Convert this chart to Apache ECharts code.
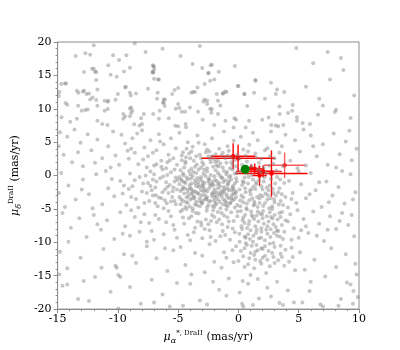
<!DOCTYPE html>
<html>
<head>
<meta charset="utf-8">
<script src="https://cdn.jsdelivr.net/npm/echarts@6/dist/echarts.min.js"></script>
<style>html,body{margin:0;padding:0;background:#fff;}#c{width:400px;height:350px;}</style>
</head>
<body>
<div id="c"></div>
<script>
// ---- axis ticks ----
const xTicks = [-15, -10, -5, 0, 5, 10];
const yTicks = [-20, -15, -10, -5, 0, 5, 10, 15, 20];

// ---- gray field stars ----
const grayTop = [[-12.0,19.5],[-8.6,19.8],[-3.2,19.4],[4.8,19.1],[7.4,18.5],[8.5,17.6],[-13.5,17.9],[-12.7,18.3],[-12.3,18.1],[-10.4,18.0],[-9.9,17.3],[-9.3,18.0],[-7.7,18.5],[-6.3,19.0],[-4.8,17.9],[-2.3,16.5],[-3.0,16.1],[-3.8,16.7],[-7.0,16.3],[-7.1,15.5],[-12.0,16.0],[-12.8,15.5],[-11.8,15.5],[-10.6,15.1],[-11.8,14.3],[-10.1,14.8],[-9.5,15.6],[-6.6,14.4],[-2.5,15.3],[-2.0,14.4],[-0.3,16.4],[1.4,14.3],[2.7,13.9],[3.2,12.9],[5.6,13.3],[7.6,14.4],[-14.7,13.7],[-14.3,13.8],[-13.4,12.7],[-12.9,12.6],[-12.6,12.2],[-12.4,12.3],[-12.3,11.4],[-12.1,11.7],[-11.8,11.3],[-11.1,11.2],[-10.8,11.2],[-10.0,12.2],[-9.4,13.2],[-9.0,12.4],[-8.5,12.3],[-7.5,13.0],[-6.7,12.4],[-6.1,11.4],[-6.2,10.9],[-5.5,12.2],[-5.3,12.8],[-5.0,13.1],[-3.9,12.4],[-3.4,13.2],[-2.8,11.4],[-2.6,11.2],[-1.8,12.2],[-1.3,12.3],[-1.1,12.6],[0.0,13.4],[0.5,12.2],[1.3,12.4],[2.2,11.5],[3.1,12.2],[3.8,12.5],[6.7,11.5],[7.0,10.5],
[8.1,9.85],[8.0,9.5],[3.4,10.35],[4.5,10.55],[4.46,9.7],[3.42,9.2],[4.12,9.36],[2.5,8.7],[1.97,8.37],[4.85,8.72],[4.85,8.2],[5.33,7.87],[5.93,7.72],[2.72,7.57],[3.1,7.5],[3.3,7.4],[3.72,7.57],
[-2.2,16.6],[-2.48,15.4],[-1.63,15.55],[-2.35,14.2],[-2.8,13.7],[-6.67,14.4],[-7.07,16.4],[-7.07,15.4],[-0.06,13.4],[1.42,14.2],[-3.75,12.5],[-3.6,12.5],[-1.27,12.3],[-1.0,12.5],[0.48,12.2],[-6.75,11.5],[-6.2,11.4],[-6.26,10.9],[-6.12,10.4],[-2.9,11.1],[-2.6,10.7],[-1.7,11.2],[-1.5,10.5],[0.73,10.4],[-5.0,10.7],[-4.9,10.1],[-5.2,10.0],[-4.7,9.55],[-4.43,9.55],[-4.02,10.2],[-3.35,9.55],[-2.97,8.37],[-2.35,9.95],[-2.2,9.95],[-2.25,9.4],[-1.7,9.2],[-0.33,8.57],[-0.2,8.37],[-1.08,8.22],[0.88,8.2],[-5.78,8.57],[-6.53,9.7],[-7.07,9.2],[-6.6,8.5],[-5.24,7.47],[-5.0,7.4],[-4.38,7.72],[-4.35,7.22],[-2.0,7.57],[-0.4,7.2],[0.6,7.2],
[-10.8,16.5],[-12.14,16.0],[-11.9,15.55],[-9.0,16.15],[-7.13,15.5],[-7.1,16.5],[-14.4,13.8],[-14.9,11.9],[-14.85,12.5],[-13.27,12.4],[-12.8,12.7],[-11.7,12.9],[-14.35,10.85],[-14.2,10.6],[-13.3,10.45],[-13.0,9.7],[-12.7,9.8],[-12.5,9.9],[-11.7,10.45],[-10.85,11.05],[-10.2,11.35],[-9.34,13.3],[-8.93,12.0],[-9.0,10.05],[-8.9,10.2],[-8.8,9.7],[-9.0,8.87],[-8.9,9.36],[-9.55,9.2],[-9.55,8.5],[-9.4,8.85],[-11.1,9.7],[-10.84,9.95],[-14.68,8.72],[-13.95,8.07],[-13.4,8.5],[-11.7,8.22],[-11.3,7.72],[-10.86,7.57],[-8.07,8.57],[-7.85,9.2],[-8.2,7.5],[-8.0,7.72],[-8.65,7.7],[-6.99,15.9],[-7.0,14.5],[8.7,15.8],[9.6,12.0],[6.2,16.8],[9.3,8.6],[6.6,9.1]];

const grayMid = [[-14.8,6.5],[-14.2,5.8],[-13.6,6.9],[-13.1,4.9],[-12.5,6.2],[-12.2,3.8],[-11.7,5.4],[-11.3,2.6],[-10.8,4.4],[-10.4,6.6],[-14.5,3.1],[-13.8,2.0],[-12.9,1.4],[-11.9,1.9],[-10.6,1.2],[-14.9,4.4],[-13.3,3.5],[-10.2,3.0],
[-9.7,6.1],[-9.4,4.8],[-9.1,2.5],[-8.8,5.6],[-8.6,3.4],[-8.3,1.7],[-8.0,6.8],[-7.8,4.2],[-7.5,2.9],[-7.3,5.3],[-7.0,1.5],[-6.8,3.8],[-6.6,6.2],[-6.4,2.2],[-6.2,4.7],[-6.0,1.1],[-5.8,3.1],[-5.6,5.6],[-5.4,2.6],[-5.2,4.1],[-5.1,1.6],[-9.9,1.6],[-9.2,3.7],[-8.4,6.3],[-7.6,1.2],[-7.1,3.4],[-6.5,5.1],[-5.9,2.0],[-8.9,4.0],[-7.9,2.4],
[-4.9,6.4],[-4.6,3.5],[-4.4,1.8],[-4.2,5.0],[-4.0,2.6],[-3.8,4.3],[-3.6,1.3],[-3.4,6.0],[-3.2,3.1],[-3.0,2.0],[-2.8,4.7],[-2.6,1.1],[-2.4,3.6],[-2.2,5.6],[-2.0,2.4],[-1.8,1.5],[-1.6,4.0],[-1.4,3.0],[-1.2,6.6],[-1.0,1.9],[-0.8,3.7],[-0.6,2.7],[-0.4,5.2],[-0.2,1.4],[-4.7,2.3],[-4.3,4.0],[-3.9,1.0],[-3.5,2.9],[-3.3,4.9],[-2.9,1.6],[-2.5,2.9],[-2.1,1.3],[-1.7,2.2],[-1.3,1.2],[-0.9,4.4],[-0.5,1.6],[-4.1,3.3],[-3.7,2.2],[-2.7,3.5],[-1.5,1.8],[-1.1,2.6],[-0.7,1.1],[-4.5,1.2],[-2.3,2.0],[-0.1,3.1],[-3.1,1.2],[-1.9,3.2],[-0.3,2.3],
[0.2,5.8],[0.4,3.9],[0.7,2.1],[0.9,4.6],[1.1,1.4],[1.4,3.3],[1.6,5.3],[1.9,2.5],[2.1,1.2],[2.4,4.1],[2.6,2.9],[2.9,1.8],[3.2,5.0],[3.4,3.4],[3.7,1.4],[3.9,6.1],[0.3,1.6],[1.2,6.4],[2.2,3.8],[3.0,2.6],[0.6,3.0],[1.7,1.9],[2.7,6.6],[3.6,4.4],
[4.3,2.2],[4.7,5.3],[5.1,3.6],[5.6,1.5],[6.0,6.0],[6.5,2.9],[7.0,4.7],[7.4,1.6],[7.9,6.3],[8.4,3.2],[8.9,5.1],[9.4,2.3],[9.8,4.0],[4.9,1.1],[6.2,4.4],[8.1,1.2],[9.2,6.7],[5.4,6.9],
[-4.4,2.1],[-3.9,3.6],[-3.1,2.6],[-2.6,3.9],[-1.9,2.0],[-1.3,3.4],[-0.6,2.0],[0.1,2.5],[0.8,3.6],[1.5,2.7],[-4.7,3.0],[-2.2,2.9],[-0.9,3.0],[0.5,1.2],[-6.8,1.7],[-5.7,2.3],[-4.35,2.75],[-3.45,1.65],[-2.35,2.45],[-1.65,1.35],[0.75,1.05],[1.65,0.85],[2.55,1.45],[-6.4,1.3],[-5.3,0.9]];

const grayCore = [[-14.7,0.4],[-14.1,-1.5],[-13.5,-3.6],[-12.9,-0.6],[-12.4,-2.8],[-11.8,0.2],[-11.3,-4.3],[-10.8,-1.9],[-10.3,-3.1],[-14.4,-4.7],[-13.0,-2.1],[-11.0,0.7],[-10.5,-0.5],[-12.1,-4.9],[-14.9,-2.6],
[-9.8,-0.8],[-9.6,-2.7],[-9.3,-4.4],[-9.0,0.3],[-8.8,-1.6],[-8.5,-3.5],[-8.2,-0.2],[-8.0,-2.4],[-7.8,-4.1],[-7.5,-1.1],[-7.3,0.6],[-7.1,-3.0],[-6.9,-1.8],[-6.7,-4.6],[-6.5,-0.4],[-6.3,-2.5],[-6.1,-3.7],[-5.9,0.1],[-5.7,-1.4],[-5.5,-3.2],[-5.3,-0.9],[-5.2,-4.3],[-5.1,-2.1],[-9.5,-1.5],[-8.9,-3.2],[-8.3,-4.8],[-7.7,0.0],[-7.2,-2.2],[-6.8,-0.9],[-6.4,-3.4],[-6.0,-1.0],[-5.8,-2.6],[-5.4,-1.8],[-5.6,0.5],[-6.2,-4.9],[-7.4,-3.8],[-8.6,-0.7],[-9.1,-2.0],[-7.0,0.2],[-5.3,-3.8],
[-7.6,-2.6],[-7.1,-0.6],[-6.6,-3.3],[-5.9,-1.7],[-5.6,-3.9],[-6.9,-4.1],[-7.9,-1.2],[-6.1,-2.1],[-7.3,-1.55],[-6.85,-2.95],[-6.25,-0.15],[-5.95,-4.15],[-5.45,-2.35],[-5.05,-0.65],[-6.3,0.9],[-5.2,-0.3],
[-4.8,0.8],[-4.1,0.7],[-3.3,0.9],[-2.6,0.6],[-1.9,0.8],[-1.2,0.7],[-0.5,0.9],[-4.6,0.3],[-4.0,0.2],[-3.5,0.4],[-2.9,0.3],[-2.3,0.1],[-1.7,0.4],[-1.0,0.2],[-0.3,0.3],[-4.9,-0.2],[-4.3,-0.3],[-3.8,-0.1],[-3.1,-0.2],[-2.5,-0.4],[-2.0,-0.1],[-1.4,-0.3],[-0.8,-0.2],[-0.2,-0.4],[-4.7,-0.8],[-4.2,-0.6],[-3.6,-0.7],[-3.0,-0.9],[-2.4,-0.6],[-1.8,-0.8],[-1.1,-0.7],[-0.6,-0.6],[-4.9,-1.3],[-4.4,-1.1],[-3.9,-1.2],[-3.3,-1.4],[-2.8,-1.1],[-2.2,-1.3],[-1.6,-1.1],[-0.9,-1.4],[-0.3,-1.2],[-4.6,-1.7],[-4.0,-1.9],[-3.5,-1.6],[-2.9,-1.8],[-2.3,-1.6],[-1.7,-1.9],[-1.2,-1.7],[-0.5,-1.8],[-4.8,-2.3],[-4.2,-2.1],[-3.7,-2.3],[-3.1,-2.2],[-2.6,-2.4],[-2.0,-2.1],[-1.4,-2.3],[-0.8,-2.2],[-0.2,-2.4],[-4.5,-2.7],[-3.9,-2.8],[-3.4,-2.6],[-2.8,-2.9],[-2.2,-2.7],[-1.6,-2.6],[-1.0,-2.8],[-0.4,-2.7],[-4.9,-3.2],[-4.3,-3.3],[-3.7,-3.1],[-3.2,-3.4],[-2.6,-3.2],[-2.0,-3.3],[-1.4,-3.1],[-0.8,-3.4],[-0.2,-3.2],[-4.6,-3.8],[-4.0,-3.6],[-3.5,-3.9],[-2.9,-3.7],[-2.3,-3.8],[-1.7,-3.6],[-1.1,-3.8],[-0.5,-3.7],[-4.8,-4.3],[-4.2,-4.1],[-3.6,-4.3],[-3.0,-4.2],[-2.5,-4.4],[-1.9,-4.1],[-1.3,-4.3],[-0.7,-4.2],[-0.1,-4.4],[-4.4,-4.7],[-3.8,-4.9],[-3.2,-4.6],[-2.6,-4.8],[-2.0,-4.7],[-1.5,-4.9],[-0.9,-4.6],[-0.3,-4.8],
[-4.55,0.05],[-3.75,0.55],[-2.75,-0.05],[-1.55,0.05],[-0.65,-0.05],[-4.05,-1.45],[-3.15,-0.55],[-2.05,-1.45],[-1.25,-0.95],[-0.15,-0.85],[-4.65,-2.05],[-3.55,-2.45],[-2.45,-1.95],[-1.15,-2.05],[-0.55,-2.95],[-4.15,-3.05],[-3.05,-2.95],[-1.85,-2.45],[-0.95,-3.15],[-4.35,-3.95],[-2.65,-3.55],[-1.55,-3.95],[-0.35,-3.55],[-3.45,-4.45],[-2.15,-4.55],[-1.05,-4.45],[-4.75,-0.55],[-3.85,-2.55],[-2.95,-1.35],[-1.95,-0.65],[-0.45,-1.55],
[-3.95,-0.45],[-3.25,-1.75],[-2.85,0.85],[-1.95,-2.85],[-1.35,-0.35],[-0.95,0.55],[-0.55,-2.25],[-0.15,0.35],[-4.75,-3.55],[-4.45,-1.95],[-4.05,-4.65],[-3.65,-3.35],[-3.35,-0.95],[-3.05,-4.05],[-2.75,-2.15],[-2.45,-3.85],[-2.15,-0.95],[-1.85,-4.35],[-1.55,-2.85],[-1.25,-3.55],[-0.85,-1.15],[-0.65,-4.05],[-0.25,-2.65],
[-3.9,-2.05],[-3.6,-1.15],[-3.3,-2.75],[-3.0,-1.55],[-2.7,-3.45],[-2.4,-1.25],[-2.1,-2.55],[-1.8,-3.15],[-1.5,-1.65],[-1.2,-2.35],[-0.9,-1.95],[-0.6,-3.35],[-3.8,-3.45],[-3.4,-0.35],[-2.9,-2.35],[-2.5,-0.85],[-2.2,-3.05],[-1.7,-1.35],[-1.3,-2.65],[-0.8,-0.85],[-0.4,-2.05],[-4.2,-2.55],[-4.5,-0.95],[-3.2,-3.85],[-2.0,-3.75],[-1.0,-4.05],
[0.2,0.6],[0.5,-0.3],[0.8,-1.2],[1.1,0.1],[1.4,-2.0],[1.7,-0.7],[2.0,-3.1],[2.3,0.4],[2.6,-1.5],[2.9,-2.6],[3.2,-0.2],[3.5,-3.8],[3.8,-1.1],[0.1,-2.1],[0.4,-3.3],[0.7,-4.2],[1.0,-2.8],[1.3,-3.9],[1.6,-4.7],[1.9,-1.6],[2.2,-4.1],[2.5,-2.2],[2.8,-4.6],[3.1,-3.0],[3.4,-1.9],[3.7,-4.4],[0.3,-1.4],[0.6,-2.5],[0.9,-3.7],[1.2,-0.6],[1.5,-1.3],[1.8,-2.9],[2.1,-0.9],[2.4,-3.6],[2.7,-0.5],[3.0,-4.0],[3.3,-2.5],[3.9,-3.2],[0.15,-4.6],[0.55,-1.9],[0.85,-0.2],[1.25,-4.5],[1.55,-3.2],[1.85,0.5],[2.25,-2.7],[2.65,-3.4],[3.05,-1.2],[3.45,-0.6],[0.4,-4.0],[0.95,-2.3],[1.45,-1.0],[2.0,-2.1],[2.55,-4.9],[0.25,-3.0],[1.15,-3.4],[1.75,-4.1],[2.35,-1.8],[2.85,-2.0],[3.6,-2.8],[0.7,0.3],
[0.35,-0.85],[1.25,-1.65],[2.15,-0.25],[3.15,0.75],[0.15,-3.75],[0.45,-1.05],[0.65,-4.85],[1.05,-2.05],[1.35,-4.25],[1.75,-3.45],[2.05,-4.55],[2.45,-2.95],[2.95,-3.55],[3.35,-4.35],
[4.2,-0.8],[4.5,-2.6],[4.8,-4.1],[5.2,-1.3],[5.6,-3.4],[6.0,0.4],[6.4,-2.2],[6.9,-4.7],[7.3,-0.9],[7.8,-3.0],[8.3,-1.7],[8.8,-4.2],[9.3,0.2],[9.7,-2.5],[4.4,-3.5],[5.0,0.6],[5.9,-2.8],[6.7,-1.0],[7.5,-4.0],[8.6,0.7],[9.5,-3.6],[4.1,-4.8]];

const grayLow = [[-14.6,-5.6],[-13.9,-7.8],[-13.2,-6.4],[-12.6,-9.2],[-12.0,-5.9],[-11.4,-8.1],[-10.9,-6.7],[-10.3,-9.5],[-14.1,-9.9],[-11.7,-7.3],
[-9.8,-5.5],[-9.4,-7.6],[-9.0,-9.0],[-8.6,-6.2],[-8.2,-8.4],[-7.8,-5.8],[-7.4,-7.1],[-7.0,-9.6],[-6.6,-6.5],[-6.2,-8.8],[-5.8,-5.3],[-5.4,-7.4],[-5.1,-9.3],[-9.6,-8.7],[-8.9,-5.2],[-7.6,-9.9],[-6.9,-5.9],[-6.0,-7.0],[-5.6,-6.1],[-8.1,-7.0],[-7.2,-8.3],[-5.3,-8.1],
[-4.8,-5.4],[-4.5,-7.2],[-4.2,-8.9],[-3.9,-6.1],[-3.6,-7.8],[-3.3,-5.7],[-3.0,-9.4],[-2.7,-6.6],[-2.4,-8.2],[-2.1,-5.2],[-1.8,-7.0],[-1.5,-9.1],[-1.2,-6.0],[-0.9,-7.7],[-0.6,-5.5],[-0.3,-8.5],[-4.6,-6.3],[-4.0,-9.7],[-3.4,-6.9],[-2.8,-8.0],[-2.2,-5.9],[-1.6,-6.6],[-1.0,-5.1],[-0.4,-6.8],[-4.3,-5.0],[-3.7,-8.5],[-2.5,-7.3],[-1.3,-8.3],[-0.7,-9.6],[-0.1,-6.1],[-1.9,-9.8],[-3.1,-7.0],[-2.0,-6.2],[-0.8,-6.9],[-3.8,-5.3],[-1.4,-5.6],
[-4.62,-5.12],[-4.11,-6.38],[-3.52,-5.61],[-3.08,-7.44],[-2.63,-5.27],[-2.28,-6.82],[-1.71,-5.46],[-1.36,-7.31],[-0.92,-6.24],[-0.48,-7.92],[-0.07,-5.38],[-1.1,-8.9],[-2.3,-9.2],
[0.2,-5.3],[0.5,-7.1],[0.8,-8.8],[1.1,-5.9],[1.4,-7.6],[1.7,-9.4],[2.0,-6.4],[2.3,-8.1],[2.6,-5.5],[2.9,-7.3],[3.2,-9.0],[3.5,-6.2],[3.8,-8.4],[0.1,-9.9],[0.4,-6.3],[0.7,-5.1],[1.0,-8.2],[1.3,-6.5],[1.6,-5.4],[1.9,-7.9],[2.2,-9.7],[2.5,-6.9],[2.8,-5.0],[3.1,-7.7],[3.4,-5.6],[3.7,-9.5],[0.3,-8.0],[0.6,-9.3],[0.9,-6.8],[1.2,-9.9],[1.5,-6.0],[1.8,-5.7],[2.1,-7.2],[2.4,-8.7],[2.7,-6.2],[3.0,-5.9],[3.3,-8.3],[3.9,-6.7],[0.25,-7.6],[0.85,-7.3],[1.45,-8.6],[2.05,-5.3],[2.65,-9.2],[3.25,-6.6],[1.05,-5.4],[1.65,-6.9],[2.35,-6.1],[0.55,-5.9],[3.6,-7.4],[1.9,-8.4],[0.95,-9.5],[2.95,-8.6],
[0.34,-6.71],[0.71,-7.86],[1.18,-6.17],[1.52,-8.13],[1.96,-5.82],[2.41,-7.58],[2.84,-6.44],[3.19,-8.27],[3.62,-5.47],[0.08,-8.71],[0.52,-9.13],[1.24,-9.02],[1.88,-9.33],[2.67,-8.06],[3.45,-9.18],
[4.3,-5.8],[4.6,-7.9],[5.0,-9.3],[5.4,-6.5],[5.8,-8.6],[6.2,-5.4],[6.7,-7.2],[7.1,-9.8],[7.6,-6.1],[8.1,-8.0],[8.6,-5.6],[9.1,-7.4],[9.6,-9.1],[4.1,-6.9],[4.9,-5.2],[5.6,-7.6],[6.5,-9.0],[7.4,-8.1],[8.4,-6.8],[9.4,-5.9],[4.4,-9.6],[5.2,-8.2]];

const grayBottom = [[-14.8,-11.4],[-14.2,-13.9],[-13.1,-12.3],[-12.4,-18.8],[-11.9,-15.2],[-11.2,-11.0],[-10.6,-17.4],[-10.2,-13.5],[-14.86,-14.8],[-14.6,-16.5],[-14.2,-16.3],[-12.84,-15.8],[-13.3,-18.5],[-11.36,-13.8],[-10.1,-13.8],
[-9.96,-14.9],[-9.8,-15.2],[-9.5,-11.8],[-9.0,-16.7],[-8.5,-13.1],[-8.1,-19.2],[-7.6,-10.6],[-7.2,-15.6],[-6.8,-12.4],[-6.3,-17.8],[-5.9,-14.3],[-5.4,-11.2],[-5.1,-16.1],[-9.96,-19.9],[-7.0,-19.0],[-8.8,-12.0],[-6.1,-10.9],[-5.7,-19.6],
[-4.8,-10.7],[-4.4,-13.4],[-4.0,-16.2],[-3.6,-11.6],[-3.2,-18.7],[-2.8,-14.5],[-2.4,-10.3],[-2.0,-12.9],[-1.6,-17.1],[-1.2,-11.5],[-0.8,-15.4],[-0.4,-13.0],[-2.6,-19.3],[-0.2,-10.6],[-3.9,-14.8],[-1.0,-18.0],[-2.1,-15.9],[-4.6,-19.5],[-1.4,-13.8],[-3.0,-12.0],
[0.2,-11.3],[0.5,-13.7],[0.8,-16.2],[1.1,-10.5],[1.4,-12.6],[1.7,-18.4],[2.0,-11.0],[2.3,-14.6],[2.6,-10.2],[2.9,-12.2],[3.2,-15.9],[3.5,-11.7],[3.8,-13.5],[4.1,-17.2],[4.4,-10.8],[4.7,-14.2],[0.3,-19.2],[0.6,-10.1],[1.0,-14.9],[1.3,-11.9],[1.9,-13.2],[2.4,-16.8],[3.0,-10.7],[3.4,-19.1],[4.2,-12.9],[0.1,-17.5],[0.4,-19.6],[1.6,-15.5],[2.7,-18.1],[3.7,-19.4],[4.6,-19.0],[0.9,-12.4],[2.2,-12.0],[1.2,-19.4],[0.35,-15.8],
[0.5,-10.9],[1.0,-11.6],[1.5,-10.4],[2.0,-12.3],[2.5,-11.3],[3.0,-13.1],[3.5,-10.5],[0.8,-13.3],[1.8,-12.8],[2.8,-11.6],[3.3,-12.7],[1.3,-13.9],[2.6,-13.6],[-0.5,-11.2],[-1.0,-12.3],[0.0,-12.8],[3.9,-11.1],[4.5,-12.2],[2.2,-10.6],[1.6,-11.2],
[0.7,-10.4],[1.9,-10.9],[2.9,-10.1],[1.4,-11.4],[2.4,-12.6],[3.6,-12.2],[0.4,-12.1],
[5.1,-11.5],[5.5,-14.1],[5.9,-17.3],[6.3,-12.6],[6.8,-19.3],[7.2,-15.1],[7.7,-10.9],[8.1,-13.7],[8.5,-18.5],[8.9,-11.8],[9.3,-16.3],[9.7,-13.2],[5.3,-19.0],[7.0,-19.6],[8.3,-19.5],[9.5,-19.2],[6.0,-15.9],[9.9,-18.2],[9.54,-17.3],[9.8,-14.8],[9.0,-16.0]];

// ---- red members with error bars ----
const redX    = [-0.44, -0.03, 3.83, 2.74, 1.05, 1.35, 1.75, 2.05, 1.7];
const redY    = [2.9, 2.6, 1.55, 0.3, 1.1, 1.0, 0.0, 0.65, 0.6];
const redXErr = [1.85, 3.05, 1.7, 3.0, 0.5, 0.8, 0.6, 0.9, 1.9];
const redYErr = [1.95, 2.0, 1.9, 3.46, 0.6, 0.8, 1.5, 0.9, 0.8];
const redAlpha = [1, 1, 0.65, 1, 1, 1, 1, 1, 0.8];

// ---- green mean ----
const greenX = [0.56];
const greenY = [0.94];

const grayAll = [].concat(grayTop, grayMid, grayCore, grayLow, grayBottom);
const redData = redX.map((x, i) => [x, redY[i], redXErr[i], redYErr[i], redAlpha[i]]);
const greenData = greenX.map((x, i) => [x, greenY[i]]);

const serif = 'DejaVu Serif';
const chart = echarts.init(document.getElementById('c'), null, {renderer: 'canvas'});
const axisCommon = {
  type: 'value',
  interval: 5,
  axisLine: {show: true, onZero: false, lineStyle: {color: '#8c8c8c', width: 1}},
  axisTick: {show: true, inside: false, length: 4, lineStyle: {color: '#8c8c8c'}},
  minorTick: {show: true, splitNumber: 5, length: 2, lineStyle: {color: '#8c8c8c'}},
  splitLine: {show: false},
  axisLabel: {fontFamily: serif, fontSize: 11, color: '#000'},
  nameLocation: 'middle',
  nameTextStyle: {
    fontFamily: serif, color: '#000',
    rich: {
      mu: {fontFamily: serif, fontStyle: 'italic', fontSize: 11, lineHeight: 15, color: '#000'},
      sub: {fontFamily: serif, fontStyle: 'italic', fontSize: 8, lineHeight: 15, verticalAlign: 'bottom', color: '#000'},
      sup: {fontFamily: serif, fontSize: 7, lineHeight: 15, verticalAlign: 'top', color: '#000'},
      t: {fontFamily: serif, fontSize: 11, lineHeight: 15, color: '#000'}
    }
  }
};
chart.setOption({
  animation: false,
  backgroundColor: '#fff',
  grid: {left: 50, top: 42, right: 41, bottom: 38, show: true, borderColor: '#8c8c8c', borderWidth: 1},
  xAxis: Object.assign({}, axisCommon, {
    min: xTicks[0], max: xTicks[xTicks.length - 1],
    axisLabel: Object.assign({}, axisCommon.axisLabel, {margin: 5}),
    name: '{mu|μ}{sub|α}{sup|*, DraII} {t|(mas/yr)}',
    nameGap: 15
  }),
  yAxis: Object.assign({}, axisCommon, {
    min: yTicks[0], max: yTicks[yTicks.length - 1],
    axisLabel: Object.assign({}, axisCommon.axisLabel, {margin: 6}),
    name: '{mu|μ}{sub|δ}{sup|DraII} {t|(mas/yr)}',
    nameGap: 25
  }),
  series: [
    {
      type: 'scatter', data: grayAll, symbol: 'circle', symbolSize: 4,
      itemStyle: {color: '#808080', opacity: 0.45}, silent: true
    },
    {
      type: 'custom', data: redData,
      renderItem: function (params, api) {
        const x = api.value(0), y = api.value(1), ex = api.value(2), ey = api.value(3), a = api.value(4);
        const l = api.coord([x - ex, y]), r = api.coord([x + ex, y]);
        const b = api.coord([x, y - ey]), t = api.coord([x, y + ey]);
        const c = api.coord([x, y]);
        const st = {stroke: '#ff0000', lineWidth: 1.4, opacity: a};
        return {type: 'group', children: [
          {type: 'line', shape: {x1: l[0], y1: l[1], x2: r[0], y2: r[1]}, style: st},
          {type: 'line', shape: {x1: b[0], y1: b[1], x2: t[0], y2: t[1]}, style: st},
          {type: 'circle', shape: {cx: c[0], cy: c[1], r: 2.2}, style: {fill: '#ff0000', opacity: a}}
        ]};
      }
    },
    {
      type: 'scatter', data: greenData, symbol: 'circle', symbolSize: 9,
      itemStyle: {color: '#008000', opacity: 1}, z: 5
    }
  ]
});
</script>
</body>
</html>
